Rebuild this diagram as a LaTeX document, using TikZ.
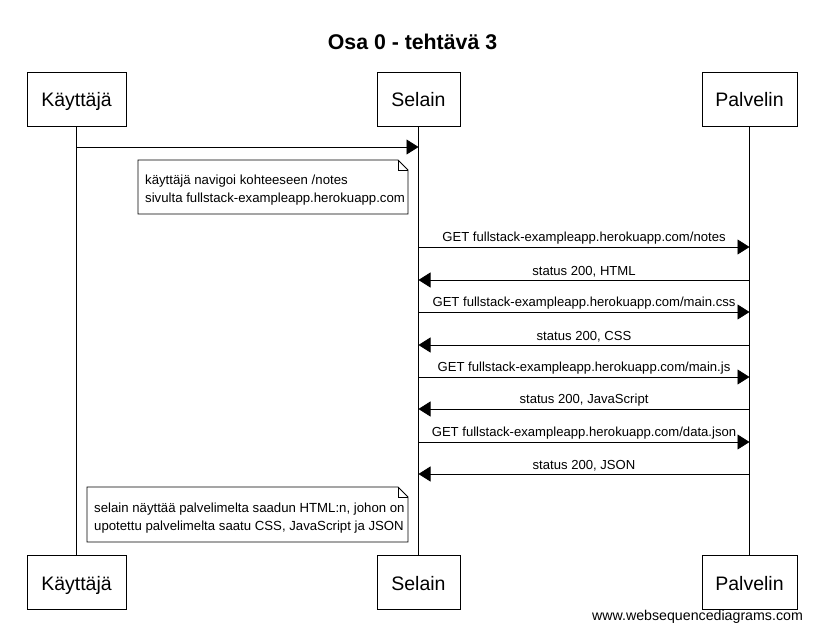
\documentclass[tikz,border=0pt]{standalone}
\usepackage{fontspec}
\setmainfont{Liberation Sans}
\usepackage{tikz}
\usetikzlibrary{arrows.meta,positioning}
\tikzset{
  actor box/.style={draw, line width=0.8pt, minimum width=#1, minimum height=54pt, inner sep=0pt, text height=16.5pt, text depth=1.5pt, font=\fontsize{19.5}{22}\selectfont},
  actor box/.default=90pt,
  life line/.style={line width=0.8pt},
  msg edge/.style={-{Triangle[length=12pt, width=15pt]}, line width=0.8pt},
  msg label/.style={above, inner sep=0pt, yshift=2pt, font=\fontsize{13.1}{15}\selectfont},
  note text/.style={align=left, inner sep=0pt, font=\fontsize{13.2}{18.3}\selectfont},
  note fold/.style={line width=0.8pt},
}

\begin{document}
\begin{tikzpicture}[x=1pt, y=-1pt]
  \useasboundingbox (0,0) rectangle (833,639);
  \node[font=\bfseries\fontsize{21.3}{24}\selectfont] (title) at (412.5,42) {Osa 0 - tehtävä 3};
  % actors, top and bottom
  \node[actor box=99pt] (kayttaja) at (76.5,99) {Käyttäjä};
  \node[actor box=83pt] (selain) at (418.5,99) {Selain};
  \node[actor box=95pt] (palvelin) at (749.5,99) {Palvelin};
  \node[actor box=99pt] (kayttajaB) at (76.5,582.5) {Käyttäjä};
  \node[actor box=83pt] (selainB) at (418.5,582.5) {Selain};
  \node[actor box=95pt] (palvelinB) at (749.5,582.5) {Palvelin};
  \draw[life line] (kayttaja) -- (kayttajaB); \draw[life line] (selain) -- (selainB); \draw[life line] (palvelin) -- (palvelinB);
  % messages
  \draw[msg edge] (kayttaja |- 0,147) -- (selain |- 0,147);
  \draw[msg edge] (selain |- 0,247) -- node[msg label] {GET fullstack-exampleapp.herokuapp.com/notes} (palvelin |- 0,247);
  \draw[msg edge] (palvelin |- 0,280) -- node[msg label] {status 200, HTML} (selain |- 0,280);
  \draw[msg edge] (selain |- 0,312) -- node[msg label] {GET fullstack-exampleapp.herokuapp.com/main.css} (palvelin |- 0,312);
  \draw[msg edge] (palvelin |- 0,345) -- node[msg label] {status 200, CSS} (selain |- 0,345);
  \draw[msg edge] (selain |- 0,377) -- node[msg label] {GET fullstack-exampleapp.herokuapp.com/main.js} (palvelin |- 0,377);
  \draw[msg edge] (palvelin |- 0,409) -- node[msg label] {status 200, JavaScript} (selain |- 0,409);
  \draw[msg edge] (selain |- 0,442) -- node[msg label] {GET fullstack-exampleapp.herokuapp.com/data.json} (palvelin |- 0,442);
  \draw[msg edge] (palvelin |- 0,474) -- node[msg label] {status 200, JSON} (selain |- 0,474);
  % notes
  \draw[note fold, fill=white] (138,160) -- (398,160) -- (408,170) -- (408,214) -- (138,214) -- cycle;
  \draw[note fold] (398,160) -- (398,170) -- (408,170);
  \node[note text, anchor=west] (noteA) at (145,190) {käyttäjä navigoi kohteeseen /notes\\sivulta fullstack-exampleapp.herokuapp.com};
  \draw[note fold, fill=white] (87,487) -- (398,487) -- (408,497) -- (408,542) -- (87,542) -- cycle;
  \draw[note fold] (398,487) -- (398,497) -- (408,497);
  \node[note text, anchor=west] (noteB) at (94,518) {selain näyttää palvelimelta saadun HTML:n, johon on\\upotettu palvelimelta saatu CSS, JavaScript ja JSON};
  \node[font=\fontsize{14.2}{16}\selectfont] (credit) at (697.5,617) {www.websequencediagrams.com};
\end{tikzpicture}
\end{document}
